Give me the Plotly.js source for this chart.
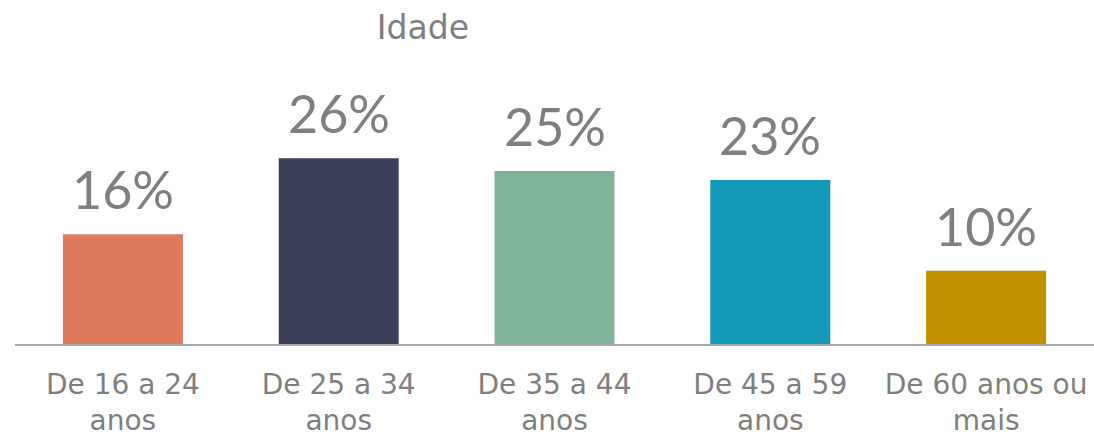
<!DOCTYPE html>
<html><head><meta charset="utf-8">
<script src="https://cdn.plot.ly/plotly-3.0.1.min.js"></script>
<style>html,body{margin:0;padding:0;background:#fff}</style>
</head><body><div id="chart" style="width:1094px;height:438px"></div>
<script>
const categories = ["De 16 a 24<br>anos", "De 25 a 34<br>anos", "De 35 a 44<br>anos", "De 45 a 59<br>anos", "De 60 anos ou<br>mais"];
const values = [15.6, 26.4, 24.6, 23.3, 10.4];
const labels = ["16%", "26%", "25%", "23%", "10%"];
const colors = ["#E07A5F", "#3D405B", "#81B29A", "#1398B7", "#BF8F00"];
const LABEL_FONT = "Lato, 'Open Sans', sans-serif";
const TEXT_FONT = "'DejaVu Sans', Verdana, sans-serif";
const GRAY = "#7F7F7F";

const trace = {
  type: "bar", x: categories, y: values,
  marker: {color: colors}, hoverinfo: "none"
};
const annotations = categories.map((c, i) => ({
  x: c, y: values[i], xref: "x", yref: "y", text: labels[i],
  showarrow: false, yanchor: "bottom", yshift: 12,
  font: {family: LABEL_FONT, size: 52, color: GRAY}
}));
const layout = {
  width: 1094, height: 438,
  margin: {l: 15, r: 0, t: 50, b: 94},
  paper_bgcolor: "#fff", plot_bgcolor: "#fff",
  bargap: 0.444, showlegend: false,
  title: {text: "Idade", x: 0.378, xanchor: "center", xref: "paper",
    y: 1 - 27/438, yanchor: "middle", yref: "container",
    font: {family: TEXT_FONT, size: 33, color: GRAY}},
  xaxis: {showline: true, linecolor: "#ABABAB", linewidth: 2, ticks: "",
    ticklabelstandoff: 14,
    tickfont: {family: TEXT_FONT, size: 28, color: GRAY}, fixedrange: true},
  yaxis: {range: [0, 41.8], visible: false, showgrid: false, zeroline: false, fixedrange: true},
  annotations: annotations
};
Plotly.newPlot("chart", [trace], layout, {displayModeBar: false, staticPlot: true});
</script></body></html>
